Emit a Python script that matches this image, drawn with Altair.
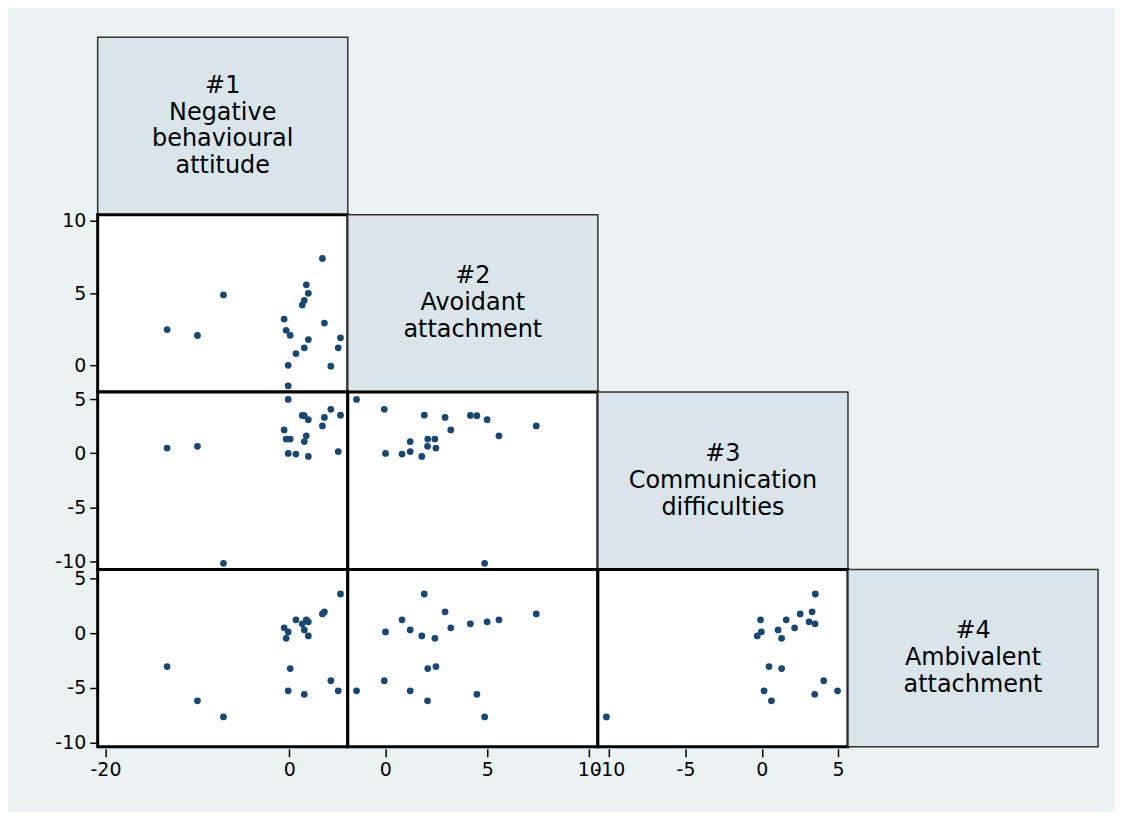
import altair as alt
import pandas as pd

v1 = [-13.3, -10.0, -7.17, -0.57, -0.35, 0.09, -0.13, -0.13, 0.71, 1.4,
      1.62, 1.84, 2.06, 1.62, 2.06, 3.59, 3.81, 4.51, 5.31, 5.56]
v2 = [2.48, 2.07, 4.87, 3.21, 2.43, 2.08, 0.01, -1.41, 0.82, 4.17,
      4.49, 5.57, 4.99, 1.22, 1.79, 7.4, 2.93, -0.05, 1.22, 1.91]
v3 = [0.47, 0.63, -10.19, 2.15, 1.3, 1.3, -0.03, 4.97, -0.08, 3.49,
      3.47, 1.6, 3.1, 1.07, -0.3, 2.52, 3.3, 4.06, 0.15, 3.51]
v4 = [-3.04, -6.18, -7.66, 0.5, -0.46, -3.23, 0.13, -5.26, 1.24, 0.87,
      -5.59, 1.24, 1.05, 0.31, -0.24, 1.77, 1.97, -4.34, -5.26, 3.6]

labels = [
    ["#1", "Negative", "behavioural", "attitude"],
    ["#2", "Avoidant", "attachment"],
    ["#3", "Communication", "difficulties"],
    ["#4", "Ambivalent", "attachment"],
]
tick_values = {
    "v1": [-20, 0],
    "v2": [0, 5, 10],
    "v3": [-10, -5, 0, 5],
    "v4": [-10, -5, 0, 5],
}
domains = {
    "v1": [-20.85, 6.35],
    "v2": [-1.84, 10.42],
    "v3": [-10.75, 5.65],
    "v4": [-10.39, 5.85],
}

df = pd.DataFrame({"v1": v1, "v2": v2, "v3": v3, "v4": v4})
names = ["v1", "v2", "v3", "v4"]

W, H = 251, 178
LH = 27
MARK = "#1a476f"
FONT = "DejaVu Sans"
HYPHEN_LABEL = "datum.value < 0 ? '-' + abs(datum.value) : '' + datum.value"


def scatter(xv, yv, show_x, show_y):
    if show_x:
        xaxis = alt.Axis(values=tick_values[xv], title=None, offset=2,
                         labelFlush=False, labelExpr=HYPHEN_LABEL)
    else:
        xaxis = None
    if show_y:
        yaxis = alt.Axis(values=tick_values[yv], title=None, offset=0,
                         labelFlush=False, labelExpr=HYPHEN_LABEL)
    else:
        yaxis = None
    return alt.Chart(df).mark_circle(size=46, color=MARK, opacity=1).encode(
        x=alt.X(f"{xv}:Q", scale=alt.Scale(domain=domains[xv], nice=False, zero=False), axis=xaxis),
        y=alt.Y(f"{yv}:Q", scale=alt.Scale(domain=domains[yv], nice=False, zero=False), axis=yaxis),
    ).properties(
        width=W, height=H,
        view=alt.ViewBackground(fill="white", stroke="black", strokeWidth=3),
    )


def label_box(i):
    lines = labels[i]
    n = len(lines)
    return alt.Chart(pd.DataFrame({"t": ["\n".join(lines)]})).mark_text(
        font=FONT, fontSize=24, lineHeight=LH, lineBreak="\n",
        align="center", baseline="middle", color="black",
    ).encode(
        x=alt.value(W / 2), y=alt.value(H / 2 - (n - 1) * LH / 2), text="t:N"
    ).properties(
        width=W, height=H,
        view=alt.ViewBackground(fill="#d9e5ea", stroke="#333333", strokeWidth=1.5),
    )


def empty():
    return alt.Chart(pd.DataFrame({"a": [0]})).mark_point(opacity=0).encode(
        x=alt.value(0), y=alt.value(0)
    ).properties(
        width=W, height=H,
        view=alt.ViewBackground(fill="transparent", stroke="transparent"),
    )


cells = []
for r in range(4):
    for c in range(4):
        if c < r:
            cells.append(scatter(names[c], names[r], show_x=(r == 3), show_y=(c == 0)))
        elif c == r:
            cells.append(label_box(r))
        else:
            cells.append(empty())

chart = alt.concat(*cells, columns=4, spacing=0, bounds="flush").configure(
    background="#eaf2f3",
    padding={"left": 45, "top": 24, "right": 16, "bottom": 29},
).configure_axis(
    labelFont=FONT, labelFontSize=19, labelColor="black",
    tickColor="black", tickSize=8, tickWidth=1.5,
    domain=False, grid=False, labelPadding=4,
)

chart.save("out.html", embed_options={"renderer": "svg", "actions": False})
